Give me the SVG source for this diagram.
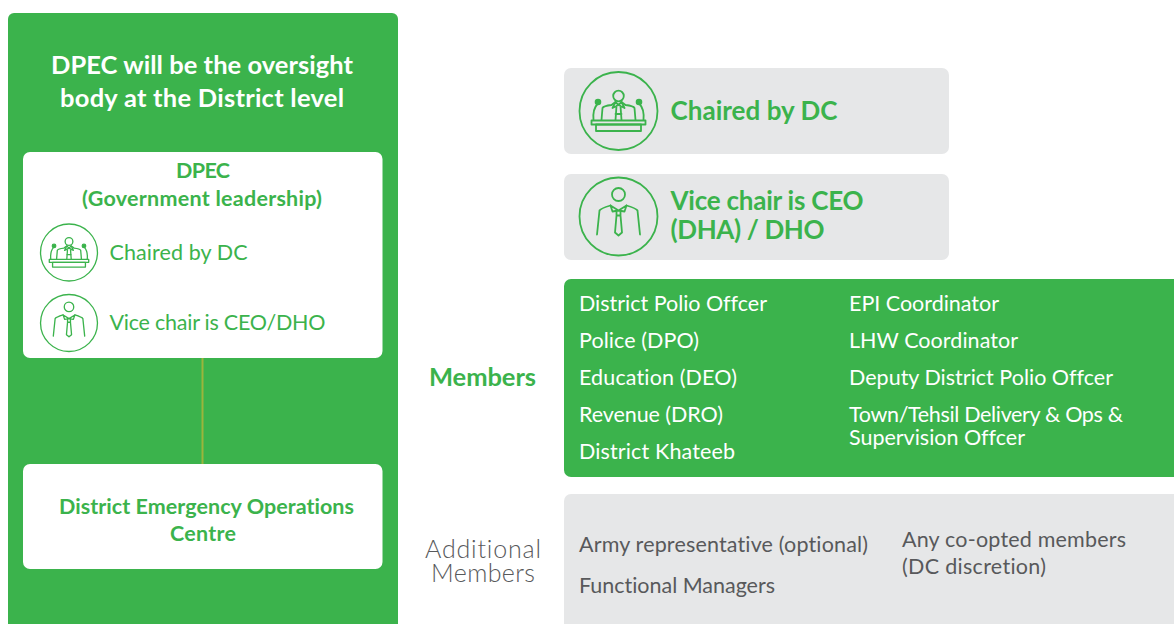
<svg xmlns="http://www.w3.org/2000/svg" width="1174" height="624" viewBox="0 0 1174 624">
<style>
text{font-family:"Lato","Noto Sans","Liberation Sans",sans-serif;font-variant-ligatures:none}
.g{fill:#3bb34c}.w{fill:#fff}.gr{fill:#e6e7e8}
.h{font-size:25.500px;font-weight:700;fill:#fff;text-anchor:middle}
.b{font-size:21.500px;font-weight:700;fill:#3bb34c;text-anchor:middle}
.s{font-size:21.500px;fill:#3bb34c}
.big{font-size:26px;font-weight:700;fill:#3bb34c}
.m{font-size:21.500px;fill:#fff}
.a{font-size:21.500px;fill:#58595b}
.lab{font-size:25px;font-weight:300;fill:#58595b;text-anchor:middle}
.ic{fill:none;stroke:#3bb34c;stroke-width:1.800;stroke-linecap:round;stroke-linejoin:round}
</style>
<defs>
<symbol id="podium" overflow="visible"><g class="ic">
<circle cx="0" cy="0" r="39"/><circle cx="0" cy="-15" r="5.300"/>
<path d="M-17,9 L-16,-3 Q-15,-5 -7,-6 L-3,-9 L0,-6 L3,-9 L7,-6 Q15,-5 16,-3 L17,9"/>
<path d="M-3,-9 L-6,-3 L0,-6 L6,-3 L3,-9 M-2,-5 L-3,9 M2,-5 L3,9 M-3,3 L3,3"/>
<path d="M-25,9 Q-26,-2 -21,-7 M25,9 Q26,-2 21,-7"/>
<circle cx="-20.500" cy="-9" r="2.400" fill="#3bb34c"/><circle cx="20.500" cy="-9" r="2.400" fill="#3bb34c"/>
<rect x="-27" y="9.500" width="54" height="4"/><rect x="-22.500" y="13.500" width="45" height="6.500"/>
</g></symbol>
<symbol id="person" overflow="visible"><g class="ic">
<circle cx="0" cy="0" r="39"/><circle cx="0" cy="-22" r="6.500"/>
<path d="M-21.500,18 L-19,-6 Q-18,-8 -8,-11 M21.500,18 L19,-6 Q18,-8 8,-11"/>
<path d="M-8,-11 L0,-6 L8,-11 M-8,-11 L-6,-5 L0,-6 L6,-5 L8,-11"/>
<path d="M-2,-6 L-2,-1 L2,-1 L2,-6 M-2,-1 L-3.500,16 L0,19 L3.500,16 L2,-1"/>
</g></symbol>
</defs>
<g id="oversight-panel">
<path class="g" d="M14,13 H392 a6,6 0 0 1 6,6 V624 H8 V19 a6,6 0 0 1 6,-6 Z"/>
<text class="h" x="202" y="74" textLength="302">DPEC will be the oversight</text>
<text class="h" x="202" y="107" textLength="284">body at the District level</text>
</g>
<g id="connectors"><line x1="202.500" y1="358" x2="202.500" y2="464" stroke="#9bb53c" stroke-width="2"/></g>
<g id="dpec">
<rect class="w" x="23" y="152" width="359.500" height="206" rx="7"/>
<text class="b" x="203" y="178" textLength="54">DPEC</text>
<text class="b" x="202" y="206" textLength="240">(Government leadership)</text>
<use href="#podium" transform="translate(69,252.500) scale(0.73)"/>
<text class="s" x="109.500" y="260" textLength="138">Chaired by DC</text>
<use href="#person" transform="translate(69,323) scale(0.73)"/>
<text class="s" x="109.500" y="330" textLength="216">Vice chair is CEO/DHO</text>
</g>
<g id="deoc">
<rect class="w" x="23" y="464" width="359.500" height="105" rx="7"/>
<text class="b" x="206.500" y="514" textLength="295">District Emergency Operations</text>
<text class="b" x="203" y="541" textLength="66">Centre</text>
</g>
<g id="chair">
<rect class="gr" x="564" y="68" width="385" height="86" rx="7"/>
<use href="#podium" transform="translate(618.500,111)"/>
<text class="big" x="670.500" y="120" textLength="167">Chaired by DC</text>
</g>
<g id="vice-chair">
<rect class="gr" x="564" y="174" width="385" height="86" rx="7"/>
<use href="#person" transform="translate(618.500,216.500)"/>
<text class="big" x="670.500" y="210" textLength="193">Vice chair is CEO</text>
<text class="big" x="670.500" y="239" textLength="154">(DHA) / DHO</text>
</g>
<g id="members">
<text x="482.500" y="386" font-size="25.500" font-weight="700" fill="#3bb34c" text-anchor="middle" textLength="107">Members</text>
<path class="g" d="M571,279 H1174 V477 H571 a7,7 0 0 1 -7,-7 V286 a7,7 0 0 1 7,-7 Z"/>
<text class="m" x="579" y="311" textLength="188">District Polio Offcer</text>
<text class="m" x="579" y="348" textLength="120">Police (DPO)</text>
<text class="m" x="579" y="385" textLength="158">Education (DEO)</text>
<text class="m" x="579" y="422" textLength="144">Revenue (DRO)</text>
<text class="m" x="579" y="459" textLength="156">District Khateeb</text>
<text class="m" x="849" y="311" textLength="150">EPI Coordinator</text>
<text class="m" x="849" y="348" textLength="169">LHW Coordinator</text>
<text class="m" x="849" y="385" textLength="264">Deputy District Polio Offcer</text>
<text class="m" x="849" y="422" textLength="274">Town/Tehsil Delivery &amp; Ops &amp;</text>
<text class="m" x="849" y="445" textLength="176">Supervision Offcer</text>
</g>
<g id="additional-members">
<text class="lab" x="483" y="558" textLength="116">Additional</text>
<text class="lab" x="483" y="582" textLength="104">Members</text>
<path class="gr" d="M571,494 H1174 V624 H564 V501 a7,7 0 0 1 7,-7 Z"/>
<text class="a" x="579" y="552" textLength="289">Army representative (optional)</text>
<text class="a" x="579" y="593" textLength="196">Functional Managers</text>
<text class="a" x="902" y="547" textLength="224">Any co-opted members</text>
<text class="a" x="902" y="574" textLength="144">(DC discretion)</text>
</g>
</svg>
